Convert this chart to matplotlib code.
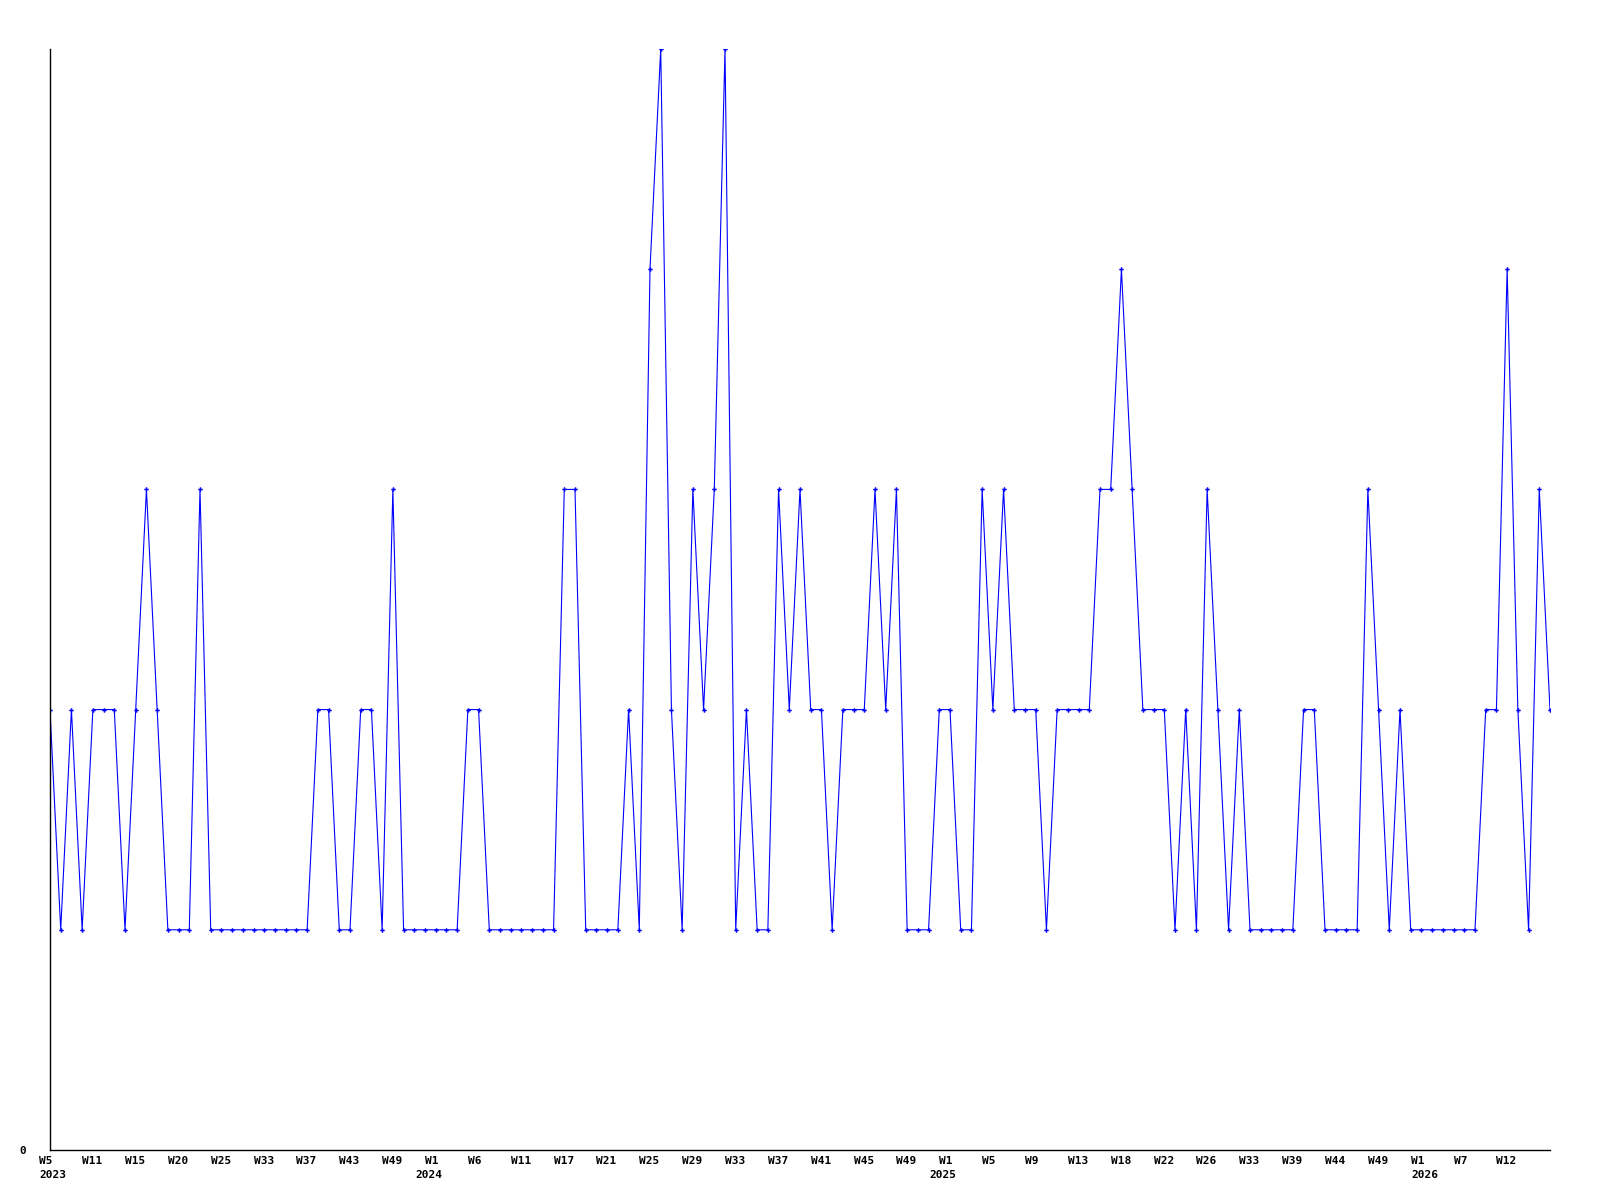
import matplotlib
matplotlib.use("Agg")
from matplotlib import pyplot as plt
from matplotlib.transforms import ScaledTranslation
import numpy as np

# weekly counts, one value per point (evenly spaced)
values = [2, 1, 2, 1, 2, 2, 2, 1, 2, 3, 2, 1, 1, 1, 3,
          1, 1, 1, 1, 1, 1, 1, 1, 1, 1,
          2, 2, 1, 1, 2, 2, 1, 3,
          1, 1, 1, 1, 1, 1,
          2, 2,
          1, 1, 1, 1, 1, 1, 1,
          3, 3,
          1, 1, 1, 1,
          2, 1, 4, 5, 2, 1, 3, 2, 3, 5, 1, 2, 1, 1, 3, 2, 3, 2, 2, 1,
          2, 2, 2, 3, 2, 3, 1, 1, 1, 2, 2, 1, 1, 3, 2, 3, 2, 2, 2, 1,
          2, 2, 2, 2, 3, 3, 4, 3, 2, 2, 2, 1, 2, 1, 3, 2, 1, 2,
          1, 1, 1, 1, 1,
          2, 2,
          1, 1, 1, 1,
          3, 2, 1, 2,
          1, 1, 1, 1, 1, 1, 1,
          2, 2, 4, 2, 1, 3, 2]

# one week label every 4th point
week_labels = ["W5", "W11", "W15", "W20", "W25", "W33", "W37", "W43", "W49",
               "W1", "W6", "W11", "W17", "W21", "W25", "W29", "W33", "W37",
               "W41", "W45", "W49",
               "W1", "W5", "W9", "W13", "W18", "W22", "W26", "W33", "W39",
               "W44", "W49",
               "W1", "W7", "W12"]
# year shown under the label with this index
years = ["2023", "2024", "2025", "2026"]
year_label_idx = [0, 9, 21, 32]

x = np.arange(len(values))

fig = plt.figure(figsize=(16, 12), dpi=100)
ax = fig.add_axes([50 / 1600, 1 - 1150 / 1200, 1500 / 1600, 1101 / 1200])
ax.plot(x, values, color='#0000ff', linewidth=0.8, marker='P',
        markersize=3.2, markeredgewidth=0)

ax.set_xlim(0, len(values) - 1)
ax.set_ylim(0, 5)
for side in ('top', 'right'):
    ax.spines[side].set_visible(False)
for side in ('left', 'bottom'):
    ax.spines[side].set_linewidth(1.0)
    ax.spines[side].set_color('black')

font = dict(fontfamily='DejaVu Sans Mono', fontweight='bold', fontsize=8)

# labels sit left-aligned a little before their point
ax.set_xticks([])
wk_off = ScaledTranslation(-10.7 / 100, -6.1 / 100, fig.dpi_scale_trans)
for pos, lab in zip(x[::4], week_labels):
    ax.text(pos, 0, lab, transform=ax.get_xaxis_transform() + wk_off,
            ha='left', va='top', **font)

year_shift = [-10.4, -20.7, -20.7, -10.3]
for yr, li, dx in zip(years, year_label_idx, year_shift):
    off = ScaledTranslation(dx / 100, -20.5 / 100, fig.dpi_scale_trans)
    ax.text(x[li * 4], 0, yr, transform=ax.get_xaxis_transform() + off,
            ha='left', va='top', **font)

ax.set_yticks([0])
ax.set_yticklabels(['0'], **font)
ax.tick_params(axis='y', length=0, pad=17)

fig.savefig('out.png', dpi=100)
